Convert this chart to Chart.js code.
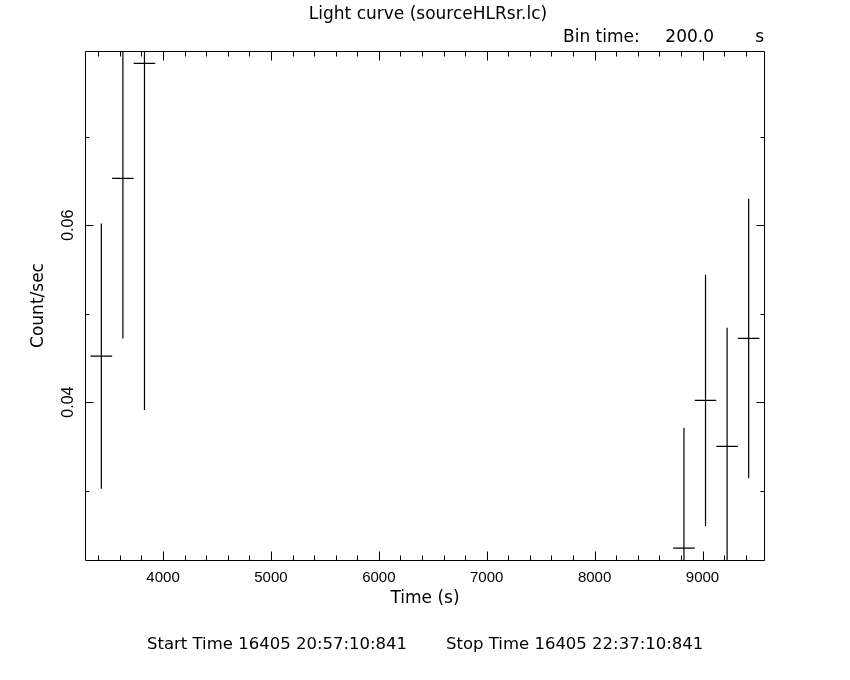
<!DOCTYPE html>
<html>
<head>
<meta charset="utf-8">
<title>Light curve (sourceHLRsr.lc)</title>
<script src="https://cdn.jsdelivr.net/npm/chart.js@4.4.1/dist/chart.umd.min.js"></script>
<style>
    body { margin: 0; background: #fff; }
    canvas { display: block; }
</style>
</head>
<body>
<canvas id="lightCurve" width="850" height="680"></canvas>
<script>
// light curve bins (centre time in s, rate and 1-sigma error in count/sec)
const times = [3428, 3628, 3828, 8828, 9028, 9228, 9428];
const rates = [0.0452, 0.0653, 0.0783, 0.0235, 0.0402, 0.0350, 0.0472];
const rateErrors = [0.0150, 0.0181, 0.0392, 0.0136, 0.0142, 0.0134, 0.0158];
const binTime = 200.0;

const xTickLabels = [4000, 5000, 6000, 7000, 8000, 9000];
const xMinorStep = 200;
const yTickLabels = [0.04, 0.06];
const yMinorTicks = [0.03, 0.05, 0.07];

const xRange = [3286, 9570];
const yRange = [0.02215, 0.0797];

const titleText = "Light curve (sourceHLRsr.lc)";
const startText = "Start Time 16405 20:57:10:841";
const stopText = "Stop Time 16405 22:37:10:841";

const textFont = "17px 'DejaVu Sans'";
const footerFont = "16.5px 'DejaVu Sans'";

// vertical error bars: one segment per bin, broken by null points
const errorBars = [];
times.forEach((t, i) => {
    errorBars.push({ x: t, y: rates[i] - rateErrors[i] });
    errorBars.push({ x: t, y: rates[i] + rateErrors[i] });
    errorBars.push({ x: t, y: null });
});

// horizontal bars show the bin width
const binBars = [];
times.forEach((t, i) => {
    binBars.push({ x: t - binTime / 2, y: rates[i] });
    binBars.push({ x: t + binTime / 2, y: rates[i] });
    binBars.push({ x: t, y: null });
});

const xMinorTicks = [];
for (let v = Math.ceil(xRange[0] / xMinorStep) * xMinorStep; v < xRange[1]; v += xMinorStep) {
    if (!xTickLabels.includes(v)) xMinorTicks.push(v);
}

// pgplot style box: frame with inward ticks on all four sides, plus the header / footer text
const framePlugin = {
    id: "frame",
    afterDraw(chart) {
        const ctx = chart.ctx;
        const area = chart.chartArea;
        const xs = chart.scales.x;
        const ys = chart.scales.y;
        const L = area.left - 0.5;
        const R = area.right + 0.5;
        const T = area.top + 0.5;
        const B = area.bottom + 0.5;

        ctx.save();
        ctx.strokeStyle = "#000";
        ctx.lineWidth = 1;
        ctx.beginPath();
        ctx.rect(L, T, R - L, B - T);

        function xTick(v, len) {
            const px = Math.round(xs.getPixelForValue(v)) + 0.5;
            ctx.moveTo(px, B); ctx.lineTo(px, B - len);
            ctx.moveTo(px, T); ctx.lineTo(px, T + len);
        }
        function yTick(v, len) {
            const py = Math.round(ys.getPixelForValue(v)) + 0.5;
            ctx.moveTo(L, py); ctx.lineTo(L + len, py);
            ctx.moveTo(R, py); ctx.lineTo(R - len, py);
        }
        xTickLabels.forEach(v => xTick(v, 9));
        xMinorTicks.forEach(v => xTick(v, 5));
        yTickLabels.forEach(v => yTick(v, 8));
        yMinorTicks.forEach(v => yTick(v, 4));
        ctx.stroke();

        ctx.fillStyle = "#000";
        ctx.font = textFont;
        ctx.textBaseline = "middle";
        ctx.textAlign = "center";
        ctx.fillText(titleText, (area.left + area.right) / 2 + 3, 15);

        ctx.textAlign = "left";
        ctx.fillText("Bin time:", 563, 38);
        ctx.textAlign = "right";
        ctx.fillText(binTime.toFixed(1), 714, 38);
        ctx.fillText("s", area.right, 38);

        ctx.font = footerFont;
        ctx.textAlign = "left";
        ctx.fillText(startText, 147, 645);
        ctx.fillText(stopText, 446, 645);
        ctx.restore();
    }
};

const ctx = document.getElementById("lightCurve").getContext("2d");
const lightCurveChart = new Chart(ctx, {
    type: "scatter",
    data: {
        datasets: [
            {
                label: "error",
                data: errorBars,
                showLine: true,
                spanGaps: false,
                borderColor: "#000",
                borderWidth: 1.2,
                pointRadius: 0
            },
            {
                label: "bin",
                data: binBars,
                showLine: true,
                spanGaps: false,
                borderColor: "#000",
                borderWidth: 1.2,
                pointRadius: 0
            }
        ]
    },
    options: {
        responsive: false,
        animation: false,
        layout: {
            padding: { top: 51, right: 86, left: 0, bottom: 0 }
        },
        plugins: {
            legend: { display: false },
            tooltip: { enabled: false }
        },
        scales: {
            x: {
                type: "linear",
                min: xRange[0],
                max: xRange[1],
                grid: { display: false, drawTicks: false },
                border: { display: false },
                afterBuildTicks: scale => {
                    scale.ticks = xTickLabels.map(v => ({ value: v }));
                },
                afterFit: scale => {
                    scale.height = 120;
                },
                ticks: {
                    color: "#000",
                    padding: 9,
                    maxRotation: 0,
                    autoSkip: false,
                    font: { family: "'Liberation Sans'", size: 15 },
                    callback: v => String(v)
                },
                title: {
                    display: true,
                    text: "Time (s)",
                    color: "#000",
                    font: { family: "'DejaVu Sans'", size: 17 },
                    padding: { top: 0, bottom: 71 }
                }
            },
            y: {
                type: "linear",
                min: yRange[0],
                max: yRange[1],
                grid: { display: false, drawTicks: false },
                border: { display: false },
                afterBuildTicks: scale => {
                    scale.ticks = yTickLabels.map(v => ({ value: v }));
                },
                afterFit: scale => {
                    scale.width = 86;
                },
                ticks: {
                    color: "#000",
                    padding: 2,
                    minRotation: 90,
                    maxRotation: 90,
                    crossAlign: "center",
                    autoSkip: false,
                    font: { family: "'Liberation Sans'", size: 16 },
                    callback: v => v.toFixed(2)
                },
                title: {
                    display: true,
                    text: "Count/sec",
                    color: "#000",
                    font: { family: "'DejaVu Sans'", size: 17 },
                    padding: { top: 28, bottom: 0 }
                }
            }
        }
    },
    plugins: [framePlugin]
});
</script>
</body>
</html>
